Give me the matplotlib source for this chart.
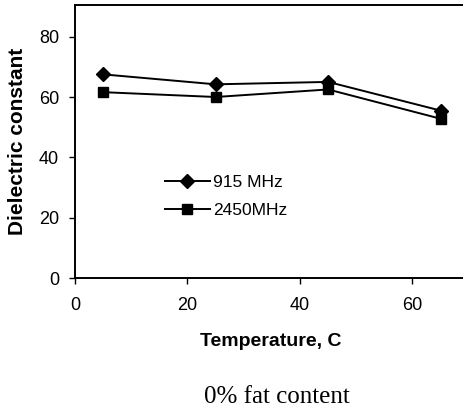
import matplotlib
matplotlib.use('Agg')
from matplotlib import pyplot as plt

temps = [5, 25, 45, 65]
eps_915 = [67.5, 64.2, 65.0, 55.5]
eps_2450 = [61.6, 60.0, 62.5, 52.8]

plt.rcParams['font.family'] = ['Liberation Sans', 'DejaVu Sans']

fig = plt.figure(figsize=(4.64, 4.12), dpi=100)
ax = fig.add_axes([0.1616, 0.325, 0.845, 0.663])

ax.plot(temps, eps_915, color='black', lw=1.4, marker='D', ms=7, label='915 MHz')
ax.plot(temps, eps_2450, color='black', lw=1.4, marker='s', ms=7.5, label='2450MHz')

ax.set_xlim(0, 69.7)
ax.set_ylim(0, 90.5)
ax.set_xticks([0, 20, 40, 60])
ax.set_yticks([0, 20, 40, 60, 80])
ax.tick_params(labelsize=13, length=4.5, width=1, direction='out')
ax.tick_params(axis='x', pad=9)
ax.tick_params(axis='y', pad=7)
for s in ax.spines.values():
    s.set_linewidth(1.4)
ax.spines['right'].set_visible(False)

ax.set_xlabel('Temperature, C', fontsize=14, fontweight='bold')
ax.xaxis.set_label_coords(0.5, -0.2)
ax.set_ylabel('Dielectric constant', fontsize=15, fontweight='bold')
ax.yaxis.set_label_coords(-0.123, 0.5)

ax.legend(loc='upper left', bbox_to_anchor=(0.207, 0.41), frameon=False,
          fontsize=12.5, handlelength=2.6, handletextpad=0.2, labelspacing=0.75,
          borderpad=0)

fig.text(0.597, 0.036, '0% fat content', fontsize=18, family='Liberation Serif',
         ha='center', va='center')

fig.savefig('out.png', dpi=100)
